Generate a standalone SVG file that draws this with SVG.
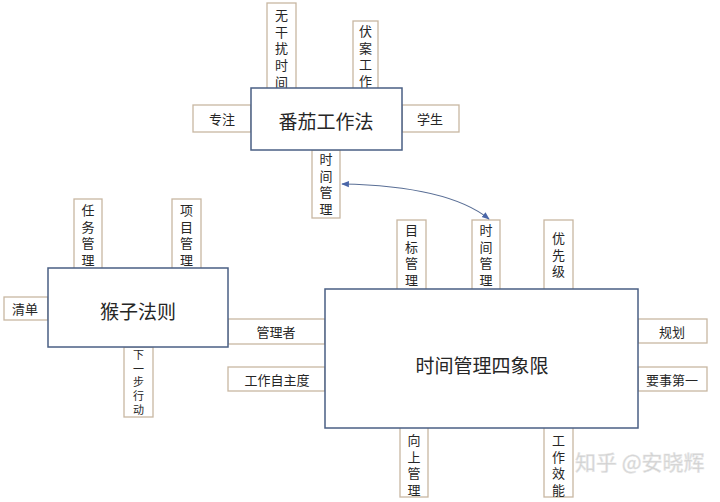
<svg xmlns="http://www.w3.org/2000/svg" width="720" height="502" viewBox="0 0 720 502">
<style>
.box{fill:#fff;stroke:#4a5f84;stroke-width:1.5}
.tab{fill:#fff;stroke:#c8b7a2;stroke-width:1.3}
.t{font-family:"Noto Sans CJK SC","Noto Sans",sans-serif;font-size:13px;fill:#262626;text-anchor:middle;dominant-baseline:central}
.v{writing-mode:vertical-rl;text-anchor:start;letter-spacing:3.7px}
.s{font-size:11px;letter-spacing:2.6px}
.big{font-size:19px}
.wm{font-family:"Noto Sans CJK SC",sans-serif;font-size:21px;fill:#cfcfcf;stroke:#e6e6e6;stroke-width:0.6}
.conn{fill:none;stroke:#5a6f96;stroke-width:1.1}
</style>
<defs>
<marker id="ah" viewBox="0 0 10 10" refX="9" refY="5" markerWidth="7" markerHeight="7" orient="auto-start-reverse">
<path d="M0,1 L10,5 L0,9 z" fill="#4a66a8"/>
</marker>
</defs>
<rect width="720" height="502" fill="#fff"/>

<g id="fanqie">
<rect class="tab" x="267" y="3" width="29" height="86"/>
<text class="t v" x="281.5" y="8.5">无干扰时间</text>
<rect class="tab" x="353" y="21" width="25" height="68"/>
<text class="t v" x="365.5" y="24.5">伏案工作</text>
<rect class="tab" x="193" y="105" width="58" height="27"/>
<text class="t" x="222" y="118.5">专注</text>
<rect class="tab" x="402" y="105" width="57" height="27"/>
<text class="t" x="430" y="118.5">学生</text>
<rect class="tab" x="312" y="150" width="28" height="68"/>
<text class="t v" x="326" y="152.5">时间管理</text>
<rect class="box" x="251" y="88" width="151" height="62"/>
<text class="t big" x="326" y="120">番茄工作法</text>
</g>

<g id="houzi">
<rect class="tab" x="74" y="199" width="28" height="70"/>
<text class="t v" x="88" y="203.5">任务管理</text>
<rect class="tab" x="172" y="199" width="29" height="70"/>
<text class="t v" x="186.5" y="203.5">项目管理</text>
<rect class="tab" x="4" y="297" width="44" height="23"/>
<text class="t" x="25" y="308.5">清单</text>
<rect class="tab" x="124" y="347" width="29" height="70"/>
<text class="t v s" x="138.5" y="349.5">下一步行动</text>
<rect class="tab" x="228" y="319" width="97" height="25"/>
<text class="t" x="276" y="331">管理者</text>
<rect class="tab" x="228" y="367" width="97" height="24"/>
<text class="t" x="277" y="379">工作自主度</text>
<rect class="box" x="48" y="268" width="180" height="79"/>
<text class="t big" x="138" y="310">猴子法则</text>
</g>

<g id="sixiangxian">
<rect class="tab" x="397" y="220" width="29" height="70"/>
<text class="t v" x="411.5" y="223.5">目标管理</text>
<rect class="tab" x="472" y="220" width="28" height="70"/>
<text class="t v" x="486" y="223.5">时间管理</text>
<rect class="tab" x="544" y="220" width="29" height="70"/>
<text class="t v" x="558.5" y="231.5">优先级</text>
<rect class="tab" x="638" y="319" width="69" height="24"/>
<text class="t" x="672" y="331">规划</text>
<rect class="tab" x="638" y="367" width="69" height="24"/>
<text class="t" x="672" y="379">要事第一</text>
<rect class="tab" x="400" y="427" width="28" height="70"/>
<text class="t v" x="414" y="433.5">向上管理</text>
<rect class="tab" x="544" y="427" width="29" height="70"/>
<text class="t v" x="558.5" y="433.5">工作效能</text>
<rect class="box" x="325" y="289" width="313" height="139"/>
<text class="t big" x="482" y="364">时间管理四象限</text>
</g>

<g id="connectors">
<path class="conn" d="M342,184 Q448,186 489,219" marker-start="url(#ah)" marker-end="url(#ah)"/>
</g>

<text class="wm" x="575" y="470">知乎 @安晓辉</text>
</svg>
